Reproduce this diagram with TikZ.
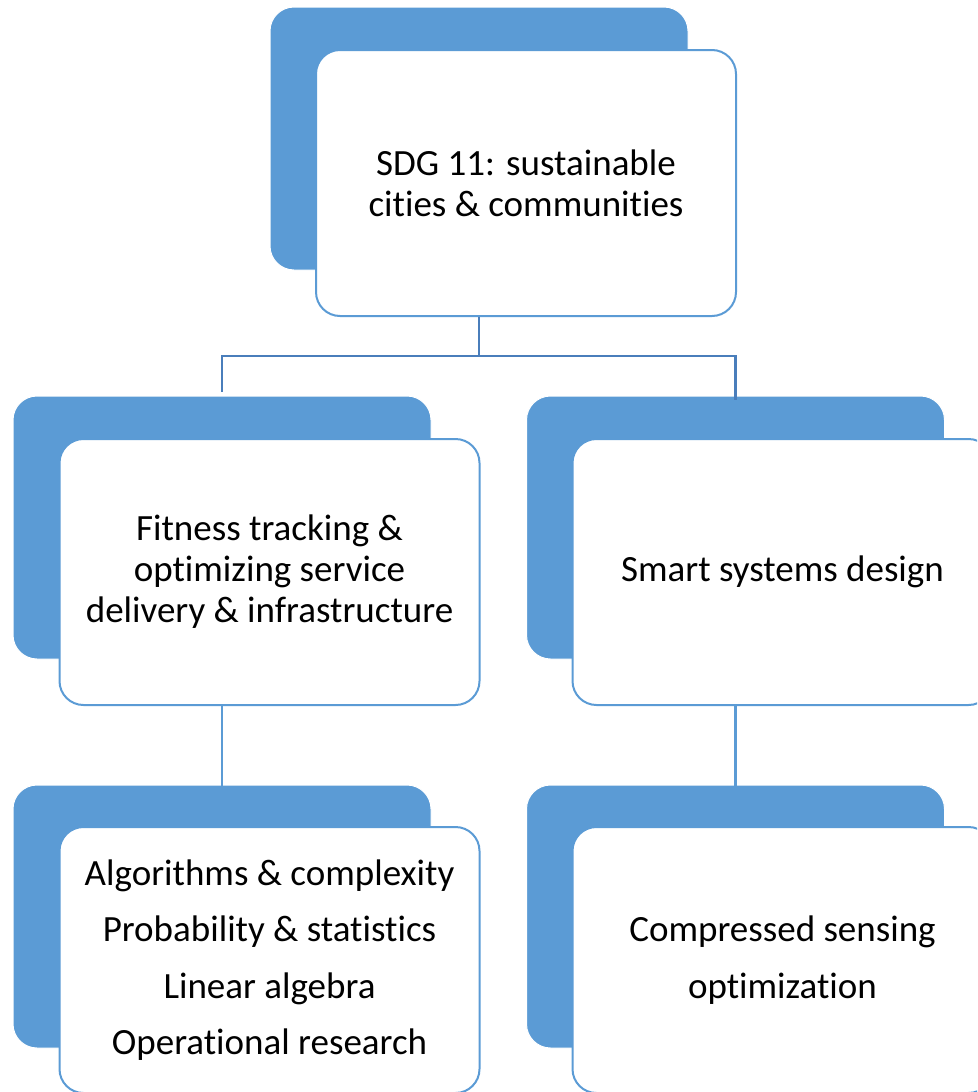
\documentclass[tikz,border=0pt]{standalone}
\usepackage{fontspec}
\setmainfont{Carlito}[RawFeature={-liga;-clig;-calt;-dlig}]
\definecolor{accent}{HTML}{5B9BD5}
\definecolor{linkblue}{HTML}{4A7EBB}
\tikzset{
  backbox/.style={draw=white, line width=1pt, fill=accent, rounded corners=24pt,
    minimum width=418pt, minimum height=263pt, inner sep=0pt},
  frontbox/.style={draw=accent, line width=2pt, fill=white, rounded corners=24pt,
    minimum width=420pt, minimum height=266pt, inner sep=0pt, align=center,
    font=\fontsize{37}{41}\selectfont},
  link/.style={draw=linkblue, line width=2.2pt},
  sublink/.style={draw=accent, line width=2.2pt}
}
\begin{document}
\begin{tikzpicture}[x=1pt, y=-1pt]
\useasboundingbox (0,0) rectangle (977,1092);
\clip (0,0) rectangle (977,1092);

% goal
\node [backbox]  (sdgback)  at (479,138.5) {};
\node [frontbox] (sdg)      at (526,183)   {SDG 11: sustainable\\ cities \& communities};

% applications
\node [backbox]  (fitback)  at (222,527.5)   {};
\node [frontbox] (fit)      at (269.5,572)   {Fitness tracking \&\\ optimizing service\\ delivery \& infrastructure};
\node [backbox]  (smartback) at (735.5,527.5) {};
\node [frontbox] (smart)     at (782.5,572)   {Smart systems design};

% methods
\node [backbox]  (mathback) at (222,916.5)   {};
\node [frontbox, font=\fontsize{37}{56.5}\selectfont] (math) at (269.5,960)
    {Algorithms \& complexity\\ Probability \& statistics\\ Linear algebra\\ Operational research};
\node [backbox]  (csback)   at (735.5,916.5) {};
\node [frontbox, font=\fontsize{37}{56.5}\selectfont] (cs) at (782.5,960)
    {Compressed sensing\\ optimization};

\coordinate (split) at (479,356);
\draw [link] (sdgback.center |- sdg.south) -- (split);
\draw [link] (fitback.north) ++(0,-4) |- (split) -| ([yshift=-4pt]smartback.north);
\draw [sublink] (fitback.center |- fit.south) -- ([yshift=-4pt]mathback.north);
\draw [sublink] (smartback.center |- smart.south) -- ([yshift=-4pt]csback.north);
\end{tikzpicture}
\end{document}
